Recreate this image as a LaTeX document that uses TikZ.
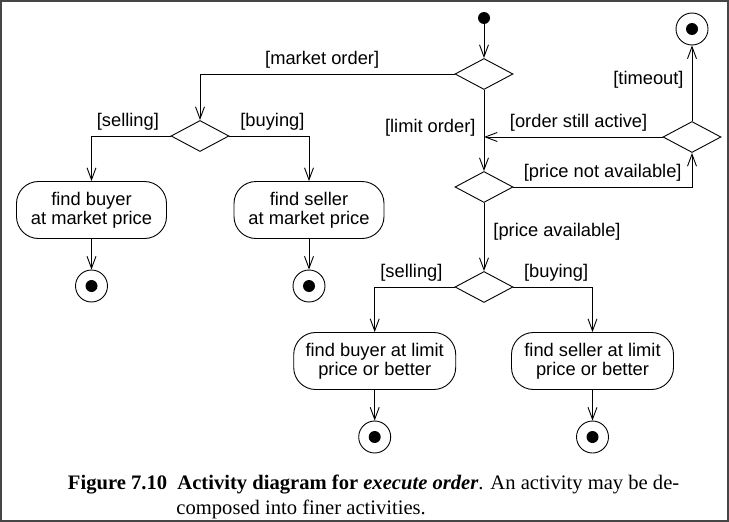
\documentclass[tikz,border=0pt]{standalone}
\usepackage{fontspec}
\setmainfont{Liberation Serif}
\setsansfont{Liberation Sans}
\usetikzlibrary{shapes.geometric,arrows.meta,calc}

\begin{document}
\begin{tikzpicture}[x=1pt,y=-1pt,line width=0.9pt]
  \useasboundingbox (0,0) rectangle (729,522);
  \draw[gray!55!black,line width=1.6pt] (0.8,0.8) rectangle (728.2,521.2);
  \node[circle,fill,inner sep=0pt,minimum size=12pt] (start) at (484,18) {};
  \begin{scope}[
    every node/.style={
      diamond,
      draw,
      inner sep=0pt,
      minimum width=58pt,
      minimum height=31pt,
    },
    ]
    \node (order)  at (484,74)  {};
    \node (side1)  at (200,136) {};
    \node (price)  at (484,187) {};
    \node (active) at (692,137) {};
    \node (side2)  at (484,287) {};
  \end{scope}
  \begin{scope}[
    every node/.style={
      draw,
      rounded corners=22pt,
      align=center,
      anchor=center,
      font=\sffamily\fontsize{18.3}{19.4}\selectfont,
      minimum height=57pt,
      inner sep=0pt,
    },
    ]
    \node[minimum width=150pt] (market1) at (91.5,210)  {find buyer\\at market price};
    \node[minimum width=150pt] (market2) at (309,210)   {find seller\\at market price};
    \node[minimum width=162pt] (limit1)  at (374.7,361) {find buyer at limit\\price or better};
    \node[minimum width=162pt] (limit2)  at (592.5,361) {find seller at limit\\price or better};
  \end{scope}
  \begin{scope}[
    every node/.style={
      circle,
      draw,
      minimum size=32pt,
      inner sep=0pt,
      path picture={\fill (path picture bounding box.center) circle (6pt);},
    },
    ]
    \node (end1) at (91.5,286)  {};
    \node (end2) at (309,286)   {};
    \node (end3) at (374.7,437) {};
    \node (end4) at (592.5,437) {};
    \node (end5) at (692,29)    {};
  \end{scope}
  \coordinate (back) at (order.south |- active.west);
  \begin{scope}[
    every node/.style={font=\sffamily\fontsize{18.3}{19.4}\selectfont,inner sep=0pt},
    every edge/.style={draw,->,>={Straight Barb[length=12pt,width=9pt]}},
    hv/.style={to path={-| (\tikztotarget) \tikztonodes}},
    ]
    \path
    (start)        edge                                                (order)
    (order.west)   edge[hv] node[pos=.26,above=5pt]{[market order]}    (side1.north)
    (side1.west)   edge[hv] node[pos=.27,above=5pt]{[selling]}         (market1.north)
    (side1.east)   edge[hv] node[pos=.27,above=5pt]{[buying]}          (market2.north)
    (order.south)  edge     node[pos=.47,left=8pt]{[limit order]}      (price.north)
    (active.west)  edge     node[pos=.47,above=5pt]{[order still active]} (back)
    (price.east)   edge[hv] node[pos=.25,above=5pt]{[price not available]} (active.south)
    (active.north) edge     node[pos=.55,left=8pt]{[timeout]}          (end5)
    (price.south)  edge     node[pos=.42,right=9pt]{[price available]} (side2.north)
    (side2.west)   edge[hv] node[pos=.27,above=5pt]{[selling]}         (limit1.north)
    (side2.east)   edge[hv] node[pos=.27,above=5pt]{[buying]}          (limit2.north)
    (market1)      edge                                                (end1)
    (market2)      edge                                                (end2)
    (limit1)       edge                                                (end3)
    (limit2)       edge                                                (end4);
  \end{scope}
  \node[anchor=base west,align=left,inner sep=0pt,font=\fontsize{20.6}{25}\selectfont]
    (caption) at (67.5,514.5)
    {\textbf{Figure 7.10\ \ Activity diagram for \textit{execute order}}. An activity may be de-\\
     \hspace*{108.5pt}composed into finer activities.};
\end{tikzpicture}
\end{document}
